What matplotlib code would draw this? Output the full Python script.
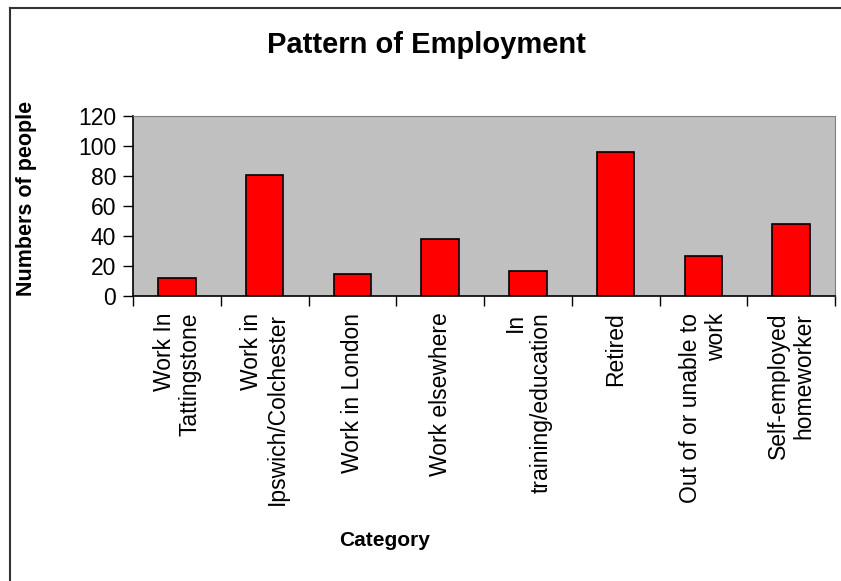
import numpy as np
import matplotlib.pyplot as plt
from matplotlib.lines import Line2D

plt.rcParams['font.family'] = ['Liberation Sans', 'DejaVu Sans']

# data
categories = ["Work In\nTattingstone", "Work in\nIpswich/Colchester", "Work in London",
              "Work elsewhere", "In\ntraining/education", "Retired",
              "Out of or unable to\nwork", "Self-employed\nhomeworker"]
counts = [12, 81, 15, 38, 17, 96, 27, 48]
yticks = [0, 20, 40, 60, 80, 100, 120]

fig = plt.figure(figsize=(8.41, 5.81), dpi=100)
ax = fig.add_axes([133/841, 1 - 296/581, (835 - 133)/841, (296 - 116)/581])
ax.set_facecolor('#C0C0C0')

x = np.arange(len(counts))
ax.bar(x, counts, width=0.43, color='#FF0000', edgecolor='black', linewidth=1.2, zorder=3)

ax.set_xlim(-0.5, len(counts) - 0.5)
ax.set_ylim(0, 120)
ax.set_yticks(yticks)
ax.tick_params(axis='y', direction='out', length=7, width=1, labelsize=16.5, pad=5)

# ticks between categories, labels at centres
ax.set_xticks(np.arange(len(counts) + 1) - 0.5)
ax.set_xticklabels([])
ax.tick_params(axis='x', which='major', direction='out', length=7, width=1)
ax.set_xticks(x, minor=True)
ax.set_xticklabels(categories, minor=True, rotation=90, va='top', ha='center',
                   multialignment='right', fontsize=16.5, linespacing=1.15)
ax.tick_params(axis='x', which='minor', length=0, pad=12)

for s in ['top', 'right']:
    ax.spines[s].set_color('#808080')
for s in ['left', 'bottom']:
    ax.spines[s].set_color('black')
    ax.spines[s].set_linewidth(1.2)

fig.text(426/841, 1 - 45/581, "Pattern of Employment", ha='center', va='center',
         fontsize=21, fontweight='bold')
fig.text(27/841, 1 - 198/581, "Numbers of people", ha='center', va='center',
         rotation=90, fontsize=15.5, fontweight='bold')
fig.text(385/841, 1 - 540/581, "Category", ha='center', va='center',
         fontsize=15, fontweight='bold')

# outer chart frame (only left and top edges visible)
fig.add_artist(Line2D([9.5/841, 9.5/841], [0, 1 - 7.5/581], color='#333333', linewidth=1.5,
                      transform=fig.transFigure))
fig.add_artist(Line2D([9.5/841, 1], [1 - 7.5/581, 1 - 7.5/581], color='#333333', linewidth=1.5,
                      transform=fig.transFigure))

fig.savefig('out.png', dpi=100)
